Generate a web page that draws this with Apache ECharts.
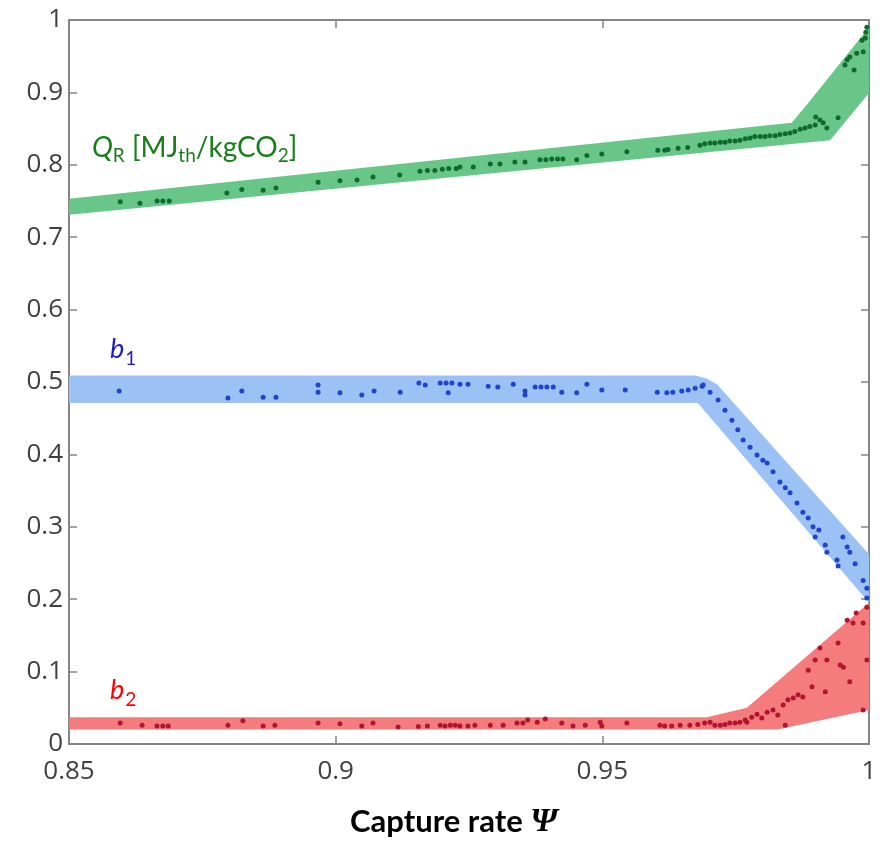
<!DOCTYPE html>
<html>
<head>
<meta charset="utf-8">
<script src="https://cdn.jsdelivr.net/npm/echarts@6/dist/echarts.min.js"></script>
<style>
	html, body { margin: 0; padding: 0; background: #fff; }
	#main { width: 883px; height: 841px; }
</style>
</head>
<body>
<div id="main"></div>
<script>
// axis ticks
const xTicks = [0.85, 0.9, 0.95, 1];
const yTicks = [0, 0.1, 0.2, 0.3, 0.4, 0.5, 0.6, 0.7, 0.8, 0.9, 1];

// shaded bands: lower / upper edges
const qrBandLow = [[0.85, 0.731], [0.9927, 0.834], [1.0, 0.899]];
const qrBandHigh = [[0.85, 0.753], [0.9855, 0.858], [0.988, 0.88], [1.0, 0.99]];
const b1BandLow = [[0.85, 0.471], [0.9679, 0.471], [1.0, 0.195]];
const b1BandHigh = [[0.85, 0.509], [0.9675, 0.509], [0.9695, 0.505], [0.9715, 0.497], [1.0, 0.262]];
const b2BandLow = [[0.85, 0.02], [0.9828, 0.02], [1.0, 0.047]];
const b2BandHigh = [[0.85, 0.037], [0.9696, 0.037], [0.9771, 0.05], [1.0, 0.195]];

// sampled points
const qrDots = [
	[0.8596, 0.749], [0.8633, 0.747], [0.8665, 0.750], [0.8676, 0.750], [0.8688, 0.750],
	[0.8796, 0.761], [0.8824, 0.766], [0.8864, 0.765], [0.8888, 0.768], [0.8967, 0.776],
	[0.9008, 0.778], [0.9040, 0.779], [0.9070, 0.783], [0.9120, 0.786], [0.9158, 0.791],
	[0.9172, 0.792], [0.9186, 0.792], [0.9200, 0.794], [0.9212, 0.795], [0.9226, 0.795],
	[0.9233, 0.797], [0.9258, 0.797], [0.9290, 0.801], [0.9308, 0.801], [0.9336, 0.804],
	[0.9355, 0.804], [0.9383, 0.807], [0.9394, 0.807], [0.9405, 0.808], [0.9416, 0.808],
	[0.9426, 0.808], [0.9452, 0.807], [0.9471, 0.813], [0.9499, 0.815], [0.9546, 0.818],
	[0.9604, 0.820], [0.9617, 0.820], [0.9623, 0.821], [0.9642, 0.823], [0.9660, 0.824],
	[0.9683, 0.827], [0.9692, 0.829], [0.9702, 0.830], [0.9711, 0.830], [0.9721, 0.831],
	[0.9730, 0.831], [0.9739, 0.833], [0.9749, 0.833], [0.9758, 0.834], [0.9768, 0.836],
	[0.9777, 0.837], [0.9786, 0.839], [0.9796, 0.839], [0.9805, 0.839], [0.9814, 0.840],
	[0.9824, 0.840], [0.9833, 0.842], [0.9843, 0.843], [0.9852, 0.844], [0.9861, 0.846],
	[0.9871, 0.849], [0.9880, 0.851], [0.9889, 0.853], [0.9899, 0.855], [0.9900, 0.866],
	[0.9914, 0.858], [0.9921, 0.851], [0.9942, 0.865], [0.9908, 0.862], [0.9955, 0.938],
	[0.9959, 0.945], [0.9964, 0.949], [0.9972, 0.931], [0.9977, 0.954], [0.9989, 0.956],
	[0.9987, 0.972], [0.9994, 0.983], [0.9993, 0.975], [0.9996, 0.990]
];
const b1Dots = [
	[0.8594, 0.4875], [0.8798, 0.478], [0.8824, 0.4875], [0.8864, 0.479], [0.8888, 0.479],
	[0.8967, 0.496], [0.8967, 0.486], [0.9008, 0.485], [0.9049, 0.482], [0.9072, 0.4875],
	[0.9121, 0.486], [0.9156, 0.4985], [0.9168, 0.496], [0.9196, 0.4985], [0.9207, 0.4985],
	[0.9218, 0.4985], [0.9233, 0.497], [0.9248, 0.497], [0.9211, 0.485], [0.9286, 0.494],
	[0.9304, 0.493], [0.9333, 0.497], [0.9355, 0.4875], [0.9355, 0.482], [0.9374, 0.493],
	[0.9385, 0.493], [0.9396, 0.493], [0.9408, 0.493], [0.9424, 0.486], [0.9452, 0.485],
	[0.9471, 0.497], [0.9499, 0.489], [0.9543, 0.489], [0.9603, 0.486], [0.9621, 0.485],
	[0.9632, 0.486], [0.9649, 0.4875], [0.9661, 0.489], [0.9674, 0.4915], [0.9687, 0.494],
	[0.9689, 0.496], [0.9702, 0.486], [0.9717, 0.475], [0.9730, 0.461], [0.9743, 0.447],
	[0.9754, 0.434], [0.9764, 0.420], [0.9777, 0.410], [0.9790, 0.399], [0.9801, 0.392],
	[0.9809, 0.388], [0.9820, 0.376], [0.9833, 0.362], [0.9843, 0.354], [0.9852, 0.347],
	[0.9865, 0.333], [0.9876, 0.320], [0.9886, 0.312], [0.9895, 0.300], [0.9906, 0.2955],
	[0.9899, 0.286], [0.9918, 0.275], [0.9921, 0.265], [0.9940, 0.254], [0.9942, 0.246],
	[0.9951, 0.286], [0.9959, 0.272], [0.9964, 0.265], [0.9974, 0.249], [0.9989, 0.226],
	[0.9996, 0.2016], [0.9996, 0.215]
];
const b2Dots = [
	[0.8596, 0.029], [0.8637, 0.026], [0.8665, 0.025], [0.8676, 0.025], [0.8686, 0.025],
	[0.8798, 0.026], [0.8826, 0.032], [0.8864, 0.025], [0.8886, 0.026], [0.8967, 0.029],
	[0.9008, 0.028], [0.9049, 0.025], [0.9070, 0.029], [0.9117, 0.0235], [0.9155, 0.024],
	[0.9172, 0.025], [0.9196, 0.026], [0.9205, 0.025], [0.9215, 0.026], [0.9224, 0.026],
	[0.9233, 0.025], [0.9248, 0.025], [0.9261, 0.026], [0.9290, 0.026], [0.9314, 0.026],
	[0.9340, 0.029], [0.9351, 0.029], [0.9360, 0.033], [0.9378, 0.030], [0.9393, 0.0345],
	[0.9424, 0.029], [0.9445, 0.025], [0.9468, 0.026], [0.9496, 0.030], [0.9499, 0.025],
	[0.9546, 0.029], [0.9608, 0.026], [0.9617, 0.025], [0.9630, 0.025], [0.9646, 0.026],
	[0.9664, 0.026], [0.9679, 0.027], [0.9692, 0.029], [0.9702, 0.030], [0.9711, 0.026],
	[0.9721, 0.026], [0.9730, 0.027], [0.9739, 0.029], [0.9749, 0.029], [0.9758, 0.030],
	[0.9768, 0.033], [0.9771, 0.030], [0.9780, 0.037], [0.9790, 0.041], [0.9799, 0.036],
	[0.9809, 0.044], [0.9820, 0.047], [0.9829, 0.040], [0.9839, 0.054], [0.9848, 0.061],
	[0.9858, 0.0635], [0.9867, 0.068], [0.9876, 0.065], [0.9843, 0.026], [0.9886, 0.102],
	[0.9893, 0.079], [0.9899, 0.116], [0.9908, 0.1325], [0.9918, 0.072], [0.9921, 0.116],
	[0.9942, 0.1395], [0.9946, 0.109], [0.9952, 0.106], [0.9959, 0.171], [0.9964, 0.086],
	[0.9970, 0.167], [0.9976, 0.181], [0.9989, 0.167], [0.9989, 0.047], [0.9996, 0.116],
	[0.9996, 0.189]
];

const axisGrey = '#858585';
const labelGrey = '#404040';

function bandSeries(low, high, color) {
	return {
		type: 'custom',
		silent: true,
		animation: false,
		data: [low[0]],
		renderItem: function (params, api) {
			const pts = low.map(p => api.coord(p))
				.concat(high.slice().reverse().map(p => api.coord(p)));
			return {
				type: 'polygon',
				shape: { points: pts },
				style: { fill: color }
			};
		}
	};
}

function dotSeries(data, color) {
	return {
		type: 'scatter',
		data: data,
		symbolSize: 5,
		silent: true,
		itemStyle: { color: color, opacity: 1 }
	};
}

function boxAxis(pos, min, max, interval, showLabel) {
	return {
		type: 'value',
		position: pos,
		min: min,
		max: max,
		interval: interval,
		axisLine: { show: true, onZero: false, lineStyle: { color: axisGrey, width: 2 } },
		axisTick: { show: true, inside: true, length: 8, lineStyle: { color: axisGrey, width: 1.5 } },
		splitLine: { show: false },
		axisLabel: {
			show: showLabel,
			color: labelGrey,
			fontSize: 26,
			fontFamily: 'Open Sans',
			margin: pos === 'bottom' ? 15 : 6,
			formatter: v => String(+v.toFixed(2))
		}
	};
}

const chart = echarts.init(document.getElementById('main'), null, { renderer: 'canvas' });

const option = {
	animation: false,
	backgroundColor: '#fff',
	grid: { left: 69, right: 14, top: 20, bottom: 97 },
	xAxis: [
		boxAxis('bottom', xTicks[0], xTicks[xTicks.length - 1], 0.05, true),
		boxAxis('top', xTicks[0], xTicks[xTicks.length - 1], 0.05, false)
	],
	yAxis: [
		boxAxis('left', yTicks[0], yTicks[yTicks.length - 1], 0.1, true),
		boxAxis('right', yTicks[0], yTicks[yTicks.length - 1], 0.1, false)
	],
	series: [
		bandSeries(qrBandLow, qrBandHigh, '#68c689'),
		bandSeries(b1BandLow, b1BandHigh, '#9cc1f5'),
		bandSeries(b2BandLow, b2BandHigh, '#f47c7c'),
		dotSeries(qrDots, '#0f6a2c'),
		dotSeries(b1Dots, '#2343c8'),
		dotSeries(b2Dots, '#b3142f')
	],
	graphic: [
		{
			type: 'text', x: 92, y: 148, z: 100,
			style: {
				text: '{q|Q}{s|R}{t| [MJ}{s|th}{t|/kgCO}{s|2}{t|]}',
				align: 'left', verticalAlign: 'middle',
				rich: {
					q: { fontFamily: 'Lato', fontSize: 28, fontStyle: 'italic', fill: '#1a7d1a' },
					t: { fontFamily: 'Lato', fontSize: 28, fill: '#1a7d1a' },
					s: { fontFamily: 'Lato', fontSize: 19, fill: '#1a7d1a', padding: [16, 0, 0, 0] }
				}
			}
		},
		{
			type: 'text', x: 110, y: 349, z: 100,
			style: {
				text: '{b|b}{s|1}',
				align: 'left', verticalAlign: 'middle',
				rich: {
					b: { fontFamily: 'Lato', fontSize: 27, fontStyle: 'italic', fill: '#1c1cc4' },
					s: { fontFamily: 'Lato', fontSize: 19, fill: '#1c1cc4', padding: [20, 0, 0, 1] }
				}
			}
		},
		{
			type: 'text', x: 110, y: 690, z: 100,
			style: {
				text: '{b|b}{s|2}',
				align: 'left', verticalAlign: 'middle',
				rich: {
					b: { fontFamily: 'Lato', fontSize: 27, fontStyle: 'italic', fill: '#ff0000' },
					s: { fontFamily: 'Lato', fontSize: 19, fill: '#ff0000', padding: [20, 0, 0, 1] }
				}
			}
		},
		{
			type: 'text', x: 350, y: 822, z: 100,
			style: {
				text: '{t|Capture rate }{p|Ψ}',
				align: 'left', verticalAlign: 'middle',
				rich: {
					t: { fontFamily: 'Lato', fontSize: 31, fontWeight: 'bold', fill: '#000' },
					p: { fontFamily: 'Liberation Serif', fontSize: 34, fontWeight: 'bold', fontStyle: 'italic', fill: '#000' }
				}
			}
		}
	]
};

chart.setOption(option);
</script>
</body>
</html>
